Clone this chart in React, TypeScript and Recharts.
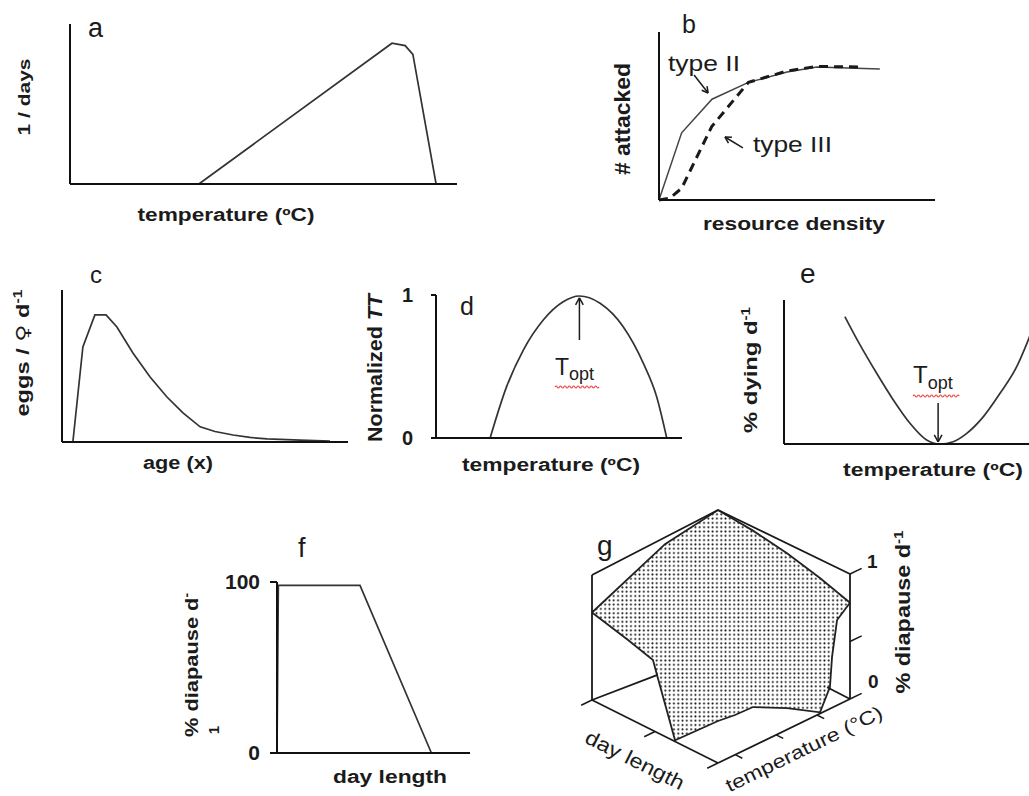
import React from "react";
import { LineChart, ComposedChart, Line, Area, XAxis, YAxis, ReferenceLine } from "recharts";

const FONT = '"Liberation Sans", Arial, Helvetica, sans-serif';
const INK = "#1b1b1b";
const CURVE = "#333";
const AXIS = { stroke: "#111", strokeWidth: 2 };

// a: development rate vs temperature
const aTemp = [33.3, 83.2, 86.6, 88.6, 94.6];
const aRate = [0, 0.88, 0.865, 0.81, 0];

// b: functional responses (type II solid, type III dashed)
const bDensityII = [0, 8.2, 19.2, 32.4, 46.4, 57.2, 80];
const bTypeII = [0, 0.4, 0.6, 0.7, 0.762, 0.792, 0.78];
const bDensityIII = [0, 4, 8.2, 19.1, 32.4, 46.4, 57.2, 73.5];
const bTypeIII = [0, 0.012, 0.07, 0.437, 0.7, 0.768, 0.795, 0.792];

// c: eggs per female per day by age
const cAge = [3.8, 7.3, 11.5, 15.4, 19.2, 24.8, 30.8, 36.7, 42.3, 48.3, 53.5, 59.8, 65.7, 71.7, 83.2, 93.7];
const cEggs = [0, 0.625, 0.836, 0.836, 0.757, 0.586, 0.428, 0.296, 0.191, 0.1, 0.069, 0.046, 0.03, 0.02, 0.012, 0.006];

// d: normalized performance vs temperature
const dTemp = [22, 28.7, 35.5, 43.6, 51.7, 58.3, 66.7, 76.1, 84.3, 89.7, 93.8];
const dPerf = [0, 0.359, 0.615, 0.825, 0.953, 0.993, 0.942, 0.778, 0.522, 0.289, 0];
const dTicks = [0, 1];

// e: mortality vs temperature
const eTemp = [23.8, 29.7, 36.2, 42.7, 49.2, 55.7, 60.9, 66.1, 71.4, 77.9, 84.4, 90.9, 95.4, 98.4];
const eDying = [0.884, 0.688, 0.491, 0.306, 0.144, 0.028, 0, 0.016, 0.074, 0.19, 0.352, 0.537, 0.722, 0.86];

// f: diapause vs day length
const fDay = [0, 0.7, 43, 80];
const fDiapause = [0, 98, 98, 0];
const fTicks = [0, 100];

// g: surface height (0-1) along the four edges of the day length x temperature floor
const gFrontDayPos = [0, 0.286, 0.484, 0.516, 0.659, 1];
const gFrontDayZ = [0.7, 0.624, 0.564, 0.46, 0.01, 0.336];
const gFrontTempPos = [0, 0.129, 0.265, 0.523, 0.773, 0.848, 0.864, 0.902, 1];
const gFrontTempZ = [0.336, 0.318, 0.312, 0.172, 0.01, 0.174, 0.406, 0.682, 0.77];
const gBackTempPos = [0, 0.574, 1];
const gBackTempZ = [0.7, 0.95, 1];
const gBackDayPos = [0, 0.261, 0.516, 0.766, 1];
const gBackDayZ = [1, 0.97, 0.92, 0.85, 0.77];
const gDayTicks = [0, 0.5, 1];
const gTempTicks = [0.13, 0.44, 0.75];
const gZTicks = [0, 0.46, 1];

type Geo = { left: number; top: number; width: number; height: number; xMax: number; yMax: number };
const GEO: Record<string, Geo> = {
  a: { left: 70, top: 24, width: 387, height: 160, xMax: 100, yMax: 1 },
  b: { left: 659, top: 32, width: 276, height: 168, xMax: 100, yMax: 1 },
  c: { left: 62, top: 290, width: 286, height: 152, xMax: 100, yMax: 1 },
  d: { left: 436, top: 295, width: 246, height: 143, xMax: 100, yMax: 1 },
  e: { left: 784, top: 300, width: 256, height: 144, xMax: 100, yMax: 1 },
  f: { left: 277, top: 582, width: 193, height: 171, xMax: 100, yMax: 100 },
};
const PAD = 60;

const pts = (xs: number[], ys: number[]) => xs.map((x, i) => ({ x, y: ys[i] }));

const curveProps = {
  dataKey: "y",
  type: "linear" as const,
  stroke: CURVE,
  strokeWidth: 1.7,
  dot: false,
  activeDot: false,
  isAnimationActive: false,
};

type FrameProps = {
  g: Geo;
  ticks?: number[];
  tickSize?: number;
  tickMargin?: number;
  labels?: boolean;
  fontSize?: number;
  children?: React.ReactNode;
};

const Frame = ({ g, ticks, tickSize = 0, tickMargin = 4, labels, fontSize = 18, children }: FrameProps) => (
  <div style={{ position: "absolute", left: g.left - PAD, top: g.top - PAD }}>
    <LineChart
      width={g.width + PAD * 2}
      height={g.height + PAD * 2}
      margin={{ top: PAD, right: PAD, bottom: 0, left: 0 }}
    >
      <XAxis
        type="number"
        dataKey="x"
        domain={[0, g.xMax]}
        height={PAD}
        axisLine={AXIS}
        tick={false}
        tickLine={false}
      />
      <YAxis
        type="number"
        domain={[0, g.yMax]}
        width={PAD}
        axisLine={AXIS}
        ticks={ticks ?? [0]}
        interval={0}
        tickSize={tickSize}
        tickMargin={tickMargin}
        tickLine={ticks ? AXIS : false}
        tick={labels ? { fill: INK, fontSize, fontWeight: 700, fontFamily: FONT } : false}
      />
      {children}
    </LineChart>
  </div>
);

// open arrow drawn as reference segments, in data units of a panel
function arrow(id: string, g: Geo, from: [number, number], to: [number, number], head = 8) {
  const kx = g.width / g.xMax;
  const ky = g.height / g.yMax;
  const dx = (to[0] - from[0]) * kx;
  const dy = -(to[1] - from[1]) * ky;
  const len = Math.hypot(dx, dy);
  const ux = dx / len;
  const uy = dy / len;
  const wing = (ang: number) => {
    const c = Math.cos(ang);
    const s = Math.sin(ang);
    const bx = -(ux * c - uy * s) * head;
    const by = -(ux * s + uy * c) * head;
    return { x: to[0] + bx / kx, y: to[1] - by / ky };
  };
  const tip = { x: to[0], y: to[1] };
  const st = { stroke: INK, strokeWidth: 1.5, ifOverflow: "visible" as const };
  return [
    <ReferenceLine key={id + "s"} segment={[{ x: from[0], y: from[1] }, tip]} {...st} />,
    <ReferenceLine key={id + "l"} segment={[wing(0.5), tip]} {...st} />,
    <ReferenceLine key={id + "r"} segment={[wing(-0.5), tip]} {...st} />,
  ];
}

// ---- panel g: a simple view of the 3-D box (floor and ceiling corners: left, front, right, back)
type P = [number, number];
const G_FLOOR: P[] = [[592, 700], [718, 763], [850, 699], [741, 643]];
const G_TOP: P[] = [[592, 575], [718, 638], [850, 574], [718, 510]];
const bil = (q: P[], day: number, temp: number): P => {
  const w = [(1 - day) * (1 - temp), day * (1 - temp), day * temp, (1 - day) * temp];
  return [
    w.reduce((s, wi, i) => s + wi * q[i][0], 0),
    w.reduce((s, wi, i) => s + wi * q[i][1], 0),
  ];
};
const proj = (day: number, temp: number, z: number): { x: number; y: number } => {
  const f = bil(G_FLOOR, day, temp);
  const t = bil(G_TOP, day, temp);
  return { x: f[0] + (t[0] - f[0]) * z, y: f[1] + (t[1] - f[1]) * z };
};

const gTop = [
  ...gBackTempPos.map((t, i) => proj(0, t, gBackTempZ[i])),
  ...gBackDayPos.slice(1).map((d, i) => proj(d, 1, gBackDayZ[i + 1])),
];
const gBottom = [
  ...gFrontDayPos.map((d, i) => proj(d, 0, gFrontDayZ[i])),
  ...gFrontTempPos.slice(1).map((t, i) => proj(1, t, gFrontTempZ[i + 1])),
];
const gRows = [
  ...gTop.map((p) => ({ u: p.x, top: p.y })),
  ...gBottom.map((p) => ({ u: p.x, bot: p.y })),
].sort((a, b) => a.u - b.u);

const unit = (a: P, b: P, len: number) => {
  const dx = b[0] - a[0];
  const dy = b[1] - a[1];
  const l = Math.hypot(dx, dy);
  return { x: (dx / l) * len, y: (dy / l) * len };
};
const [GL, GF, GR] = G_FLOOR;

const seg = (key: string, a: { x: number; y: number }, b: { x: number; y: number }, w = 1.8) => (
  <ReferenceLine key={key} segment={[a, b]} stroke="#1a1a1a" strokeWidth={w} ifOverflow="visible" />
);

const gLines = () => {
  const out: React.ReactNode[] = [];
  out.push(seg("lv", proj(0, 0, 0), proj(0, 0, 1)));
  out.push(seg("rv", proj(1, 1, 0), proj(1, 1, 1)));
  out.push(seg("tl", proj(0, 0, 1), proj(0, 1, 1)));
  out.push(seg("tr", proj(0, 1, 1), proj(1, 1, 1)));
  out.push(seg("fd", proj(0, 0, 0), proj(1, 0, 0)));
  out.push(seg("ft", proj(1, 0, 0), proj(1, 1, 0)));
  out.push(seg("bl", proj(0, 0, 0), proj(0, 0.44, 0)));
  out.push(seg("br", proj(1, 1, 0), proj(0.79, 1, 0)));
  const dDir = unit(GR, GF, 12);
  gDayTicks.forEach((d, i) => {
    const p = proj(d, 0, 0);
    out.push(seg("dt" + i, p, { x: p.x + dDir.x, y: p.y + dDir.y }, 1.5));
  });
  const tDir = unit(GL, GF, 8);
  gTempTicks.forEach((t, i) => {
    const p = proj(1, t, 0);
    out.push(seg("tt" + i, p, { x: p.x + tDir.x, y: p.y + tDir.y }, 1.5));
  });
  const zDir = unit(GF, GR, 13);
  gZTicks.forEach((z, i) => {
    const p = proj(1, 1, z);
    out.push(seg("zt" + i, p, { x: p.x + zDir.x, y: p.y + zDir.y }, 1.5));
  });
  return out;
};

const PanelG = () => (
  <div style={{ position: "absolute", left: 560, top: 495 }}>
    <ComposedChart width={360} height={300} data={gRows} margin={{ top: 0, right: 0, bottom: 0, left: 0 }}>
      <defs>
        <pattern id="gDots" width="4.3" height="4.3" patternUnits="userSpaceOnUse">
          <rect width="4.3" height="4.3" fill="#fff" />
          <circle cx="2.15" cy="2.15" r="1" fill="#111" />
        </pattern>
      </defs>
      <XAxis type="number" dataKey="u" domain={[560, 920]} hide />
      <YAxis type="number" domain={[495, 795]} reversed hide />
      <Area
        dataKey="top"
        type="linear"
        baseValue={795}
        connectNulls
        stroke="#222"
        strokeWidth={1.8}
        fill="url(#gDots)"
        fillOpacity={1}
        dot={false}
        activeDot={false}
        isAnimationActive={false}
      />
      <Area
        dataKey="bot"
        type="linear"
        baseValue={795}
        connectNulls
        stroke="#222"
        strokeWidth={1.8}
        fill="#fff"
        fillOpacity={1}
        dot={false}
        activeDot={false}
        isAnimationActive={false}
      />
      {gLines()}
    </ComposedChart>
  </div>
);

type LabelProps = {
  x: number;
  y: number;
  size: number;
  children: React.ReactNode;
  len?: number;
  rot?: number;
  anchor?: "start" | "middle" | "end";
  weight?: number;
  central?: boolean;
};
const Label = ({ x, y, size, children, len, rot = 0, anchor = "middle", weight = 700, central }: LabelProps) => (
  <text
    x={x}
    y={y}
    fontSize={size}
    fontWeight={weight}
    fontFamily={FONT}
    fill={INK}
    textAnchor={anchor}
    dominantBaseline={central ? "central" : undefined}
    textLength={len}
    lengthAdjust={len ? "spacingAndGlyphs" : undefined}
    transform={rot ? `rotate(${rot} ${x} ${y})` : undefined}
  >
    {children}
  </text>
);

const wave = (x0: number, x1: number, y: number, amp = 2, half = 2.2) => {
  let d = `M${x0},${y}`;
  let up = true;
  for (let x = x0; x < x1; x += half) {
    d += ` Q${x + half / 2},${y + (up ? -amp : amp)} ${x + half},${y}`;
    up = !up;
  }
  return d;
};

const Texts = () => (
  <svg width={1029} height={796} style={{ position: "absolute", left: 0, top: 0, pointerEvents: "none" }}>
    {/* a */}
    <Label x={88} y={37} size={27} anchor="start" weight={400}>a</Label>
    <Label x={30} y={97} size={17} len={77} rot={-90}>1 / days</Label>
    <Label x={226} y={221} size={18} len={177}>temperature (ºC)</Label>
    {/* b */}
    <Label x={682} y={33} size={25} anchor="start" weight={400}>b</Label>
    <Label x={630} y={119} size={22} len={112} rot={-90}># attacked</Label>
    <Label x={794} y={230} size={19} len={182}>resource density</Label>
    <Label x={668} y={71} size={22} len={72} anchor="start" weight={400}>type II</Label>
    <Label x={753} y={152} size={22} len={79} anchor="start" weight={400}>type III</Label>
    {/* c */}
    <Label x={90} y={283} size={24} anchor="start" weight={400}>c</Label>
    <Label x={29} y={353} size={18} len={127} rot={-90}>
      eggs / <tspan fontFamily='"DejaVu Sans", sans-serif' fontWeight={400}>♀</tspan> d
      <tspan dy={-7} fontSize={12}>-1</tspan>
    </Label>
    <Label x={178} y={469} size={18} len={70}>age (x)</Label>
    {/* d */}
    <Label x={460} y={315} size={25} anchor="start" weight={400}>d</Label>
    <Label x={382} y={368} size={20} len={148} rot={-90}>
      Normalized <tspan fontStyle="italic">TT</tspan>
    </Label>
    <Label x={551} y={471} size={18} len={178}>temperature (ºC)</Label>
    <Label x={555} y={375} size={23} anchor="start" weight={400}>
      T<tspan dy={5} fontSize={18}>opt</tspan>
    </Label>
    <path d={wave(555, 599, 387)} stroke="#ec4a4a" strokeWidth={1.2} fill="none" />
    {/* e */}
    <Label x={800} y={283} size={28} anchor="start" weight={400}>e</Label>
    <Label x={757} y={370} size={19} len={126} rot={-90}>
      % dying d<tspan dy={-7} fontSize={12}>-1</tspan>
    </Label>
    <Label x={933} y={476} size={18} len={180}>temperature (ºC)</Label>
    <Label x={913} y={383} size={24} anchor="start" weight={400}>
      T<tspan dy={6} fontSize={18}>opt</tspan>
    </Label>
    <path d={wave(913, 958, 396)} stroke="#ec4a4a" strokeWidth={1.2} fill="none" />
    {/* f */}
    <Label x={298} y={557} size={27} anchor="start" weight={400}>f</Label>
    <Label x={198} y={665} size={19} len={144} rot={-90}>
      % diapause d<tspan dy={-7} fontSize={12}>-</tspan>
    </Label>
    <Label x={219} y={730} size={15} rot={-90}>1</Label>
    <Label x={390} y={783} size={18} len={114}>day length</Label>
    {/* g */}
    <Label x={597} y={555} size={28} anchor="start" weight={400}>g</Label>
    <Label x={867} y={568} size={19} anchor="start">1</Label>
    <Label x={868} y={688} size={19} anchor="start">0</Label>
    <Label x={910} y={612} size={20} len={163} rot={-90}>
      % diapause d<tspan dy={-7} fontSize={13}>-1</tspan>
    </Label>
    <Label x={635} y={760} size={20} len={108} rot={26.6} central weight={400}>day length</Label>
    <Label x={804} y={749} size={19} len={172} rot={-26} central weight={400}>temperature (°C)</Label>
  </svg>
);

export default function App() {
  return (
    <div
      style={{
        position: "absolute",
        left: 0,
        top: 0,
        width: 1029,
        height: 796,
        overflow: "hidden",
        background: "#fff",
        fontFamily: FONT,
      }}
    >
      <Frame g={GEO.a}>
        <Line data={pts(aTemp, aRate)} {...curveProps} />
      </Frame>

      <Frame g={GEO.b} ticks={[0]} tickSize={6}>
        <Line data={pts(bDensityII, bTypeII)} {...curveProps} stroke="#444" strokeWidth={1.5} />
        <Line data={pts(bDensityIII, bTypeIII)} {...curveProps} stroke="#1a1a1a" strokeWidth={3} strokeDasharray="9 6" />
        {arrow("b2", GEO.b, [12.7, 0.744], [17.8, 0.637], 7)}
        {arrow("b3", GEO.b, [30.4, 0.31], [23.9, 0.375], 7)}
      </Frame>

      <Frame g={GEO.c} ticks={[0, 1]} tickSize={4}>
        <Line data={pts(cAge, cEggs)} {...curveProps} />
      </Frame>

      <Frame g={GEO.d} ticks={dTicks} tickSize={5} tickMargin={18} labels fontSize={20}>
        <Line data={pts(dTemp, dPerf)} {...curveProps} type="monotone" />
        {arrow("d", GEO.d, [58.3, 0.685], [58.3, 0.98], 8)}
      </Frame>

      <Frame g={GEO.e}>
        <Line data={pts(eTemp, eDying)} {...curveProps} type="monotone" />
        {arrow("e", GEO.e, [60.2, 0.285], [60.2, 0.014], 8)}
      </Frame>

      <Frame g={GEO.f} ticks={fTicks} tickSize={7} tickMargin={10} labels fontSize={21}>
        <Line data={pts(fDay, fDiapause)} {...curveProps} />
      </Frame>

      <PanelG />
      <Texts />
    </div>
  );
}
